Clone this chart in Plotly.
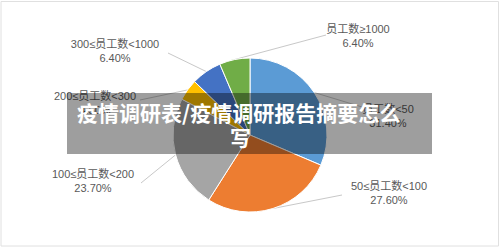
import math
import plotly.graph_objects as go

# ---- data ----
categories = ["员工数<50", "50≤员工数<100", "100≤员工数<200", "200≤员工数<300", "300≤员工数<1000", "员工数≥1000"]
shares = [31.4, 27.6, 23.7, 4.5, 6.4, 6.4]
colors = ["#5B9BD5", "#ED7D31", "#A5A5A5", "#FFC000", "#4472C4", "#70AD47"]
title_lines = ["疫情调研表/疫情调研报告摘要怎么", "写"]

# ---- layout (pixels) ----
W, H = 500, 248
cx, cy, R = 250, 135, 77
label_pos = [(388, 117), (389, 194), (93, 182), (95, 104), (115, 52), (358, 37)]
line_end = [(372, 110), (342, 195), (141, 183), (140, 100), (168, 53), (326, 35)]

fig = go.Figure()

# pie
fig.add_trace(go.Pie(
    values=shares, labels=categories, sort=False, direction="clockwise", rotation=0,
    marker=dict(colors=colors, line=dict(color="white", width=1)),
    textinfo="none", hoverinfo="skip", showlegend=False,
    domain=dict(x=[(cx - R) / W, (cx + R) / W], y=[(H - cy - R) / H, (H - cy + R) / H]),
))

# leader lines from slice mid-angle on the rim to the label
total = sum(shares)
lx, ly = [], []
cum = 0
for v, end in zip(shares, line_end):
    mid = (cum + v / 2) / total * 2 * math.pi
    cum += v
    sx = cx + R * math.sin(mid)
    sy = cy - R * math.cos(mid)
    lx += [sx, end[0], None]
    ly += [sy, end[1], None]
fig.add_trace(go.Scatter(x=lx, y=ly, mode="lines", line=dict(color="#c8c8c8", width=1),
                         hoverinfo="skip", showlegend=False))

# labels
texts = [f"{c}<br>{v:.2f}%" for c, v in zip(categories, shares)]
fig.add_trace(go.Scatter(
    x=[p[0] for p in label_pos], y=[p[1] for p in label_pos], mode="text", text=texts,
    textposition="middle center",
    textfont=dict(family="Liberation Sans, Noto Sans CJK SC", size=11, color="#595959"),
    hoverinfo="skip", showlegend=False,
))

shapes = [
    dict(type="rect", xref="paper", yref="paper", x0=1 / W, x1=1 - 1.5 / W, y0=2 / H, y1=1 - 1.5 / H,
         line=dict(color="#e0e0e0", width=1), fillcolor="rgba(0,0,0,0)", layer="below"),
    dict(type="rect", xref="x", yref="y", x0=67, x1=432, y0=93, y1=154,
         line=dict(width=0), fillcolor="rgba(0,0,0,0.38)", layer="above"),
]

annotations = [
    dict(x=238, y=112, xref="x", yref="y", text=title_lines[0], showarrow=False,
         font=dict(family="Noto Sans CJK SC", size=21, color="white", weight="bold")),
    dict(x=240, y=137, xref="x", yref="y", text=title_lines[1], showarrow=False,
         font=dict(family="Noto Sans CJK SC", size=21, color="white", weight="bold")),
]

fig.update_layout(
    width=W, height=H, margin=dict(l=0, r=0, t=0, b=0),
    paper_bgcolor="white", plot_bgcolor="rgba(0,0,0,0)",
    xaxis=dict(range=[0, W], visible=False, fixedrange=True, domain=[0, 1]),
    yaxis=dict(range=[H, 0], visible=False, fixedrange=True, domain=[0, 1]),
    shapes=shapes, annotations=annotations, showlegend=False,
)

fig.write_html("out.html")
